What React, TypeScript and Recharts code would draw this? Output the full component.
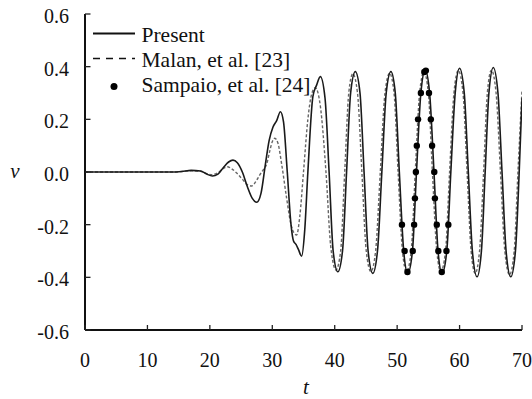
import React from "react";
import { ComposedChart, Line, Scatter, XAxis, YAxis, Legend } from "recharts";

const presentT = [0,5,10,14,15.5,17,18.5,19.5,20.4,21.3,22.2,23.0,23.7,24.4,25.2,26.0,26.8,27.5,28.2,28.9,29.5,30.1,30.7,31.3,31.8,32.4,33.0,33.4,33.8,34.2,34.7,35.2,35.7,36.5,37.1,37.7,38.45,39.1,39.75,40.5,41.25,41.9,42.55,43.3,44.05,44.7,45.35,46.1,46.85,47.55,48.25,49.0,49.7,50.35,51.05,51.7,52.45,53.1,53.8,54.5,55.2,55.9,56.55,57.2,57.95,58.6,59.3,60.0,60.75,61.4,62.05,62.8,63.5,64.1,64.7,65.4,66.15,66.8,67.45,68.2,68.95,69.55,70];
const presentV = [0,0,0,0,0.002,0.006,0.004,-0.008,-0.015,-0.008,0.018,0.038,0.045,0.035,0.0,-0.055,-0.1,-0.115,-0.08,0.03,0.12,0.17,0.195,0.229,0.19,0.0,-0.2,-0.262,-0.275,-0.295,-0.32,-0.22,0.0,0.286,0.33,0.362,0.28,0.0,-0.3,-0.379,-0.3,0,0.3,0.381,0.3,0,-0.3,-0.385,-0.3,0,0.3,0.381,0.3,0,-0.3,-0.385,-0.3,0,0.3,0.387,0.3,0,-0.3,-0.385,-0.3,0,0.3,0.394,0.3,0,-0.3,-0.398,-0.3,0,0.3,0.397,0.3,0,-0.3,-0.398,-0.3,0,0.28];

const malanT = [0,5,10,14,15.5,17,18.5,19.5,20.3,21.3,22.2,22.8,23.5,24.3,25.3,26.0,26.7,27.4,28.0,28.6,29.1,29.6,30.0,30.4,30.9,31.5,32.3,33.0,33.5,33.9,34.4,35.0,35.7,36.3,36.9,37.7,38.6,39.35,40.2,40.95,41.6,42.25,42.9,43.65,44.35,45.05,45.8,46.55,47.3,48.05,48.8,49.5,50.15,50.85,51.5,52.25,52.9,53.6,54.3,55.0,55.65,56.35,57.0,57.75,58.4,59.1,59.8,60.55,61.2,61.85,62.5,63.2,63.85,64.45,65.1,65.85,66.55,67.25,68.0,68.75,69.35,70];
const malanV = [0,0,0,0,0.002,0.005,0.003,-0.006,-0.01,-0.002,0.014,0.02,0.012,-0.004,-0.03,-0.048,-0.053,-0.035,-0.011,0.01,0.03,0.08,0.115,0.128,0.11,0.03,-0.1,-0.2,-0.232,-0.239,-0.17,0,0.2,0.295,0.32,0.25,0,-0.28,-0.372,-0.3,0,0.3,0.373,0.3,0,-0.3,-0.378,-0.3,0,0.3,0.375,0.3,0,-0.3,-0.378,-0.3,0,0.3,0.38,0.3,0,-0.3,-0.378,-0.3,0,0.3,0.385,0.3,0,-0.3,-0.385,-0.3,0,0.3,0.387,0.3,0,-0.3,-0.39,-0.3,0,0.31];

const sampaioT = [50.77,51.2,51.65,52.5,52.72,52.85,53.0,53.15,53.35,53.8,54.35,54.6,55.1,55.4,55.6,55.95,56.05,56.35,56.6,57.15,57.9,58.2];
const sampaioV = [-0.2,-0.3,-0.38,-0.3,-0.2,-0.1,0.0,0.1,0.2,0.3,0.38,0.385,0.3,0.2,0.1,0.0,-0.1,-0.2,-0.3,-0.38,-0.3,-0.2];

const seriesNames = ["Present", "Malan, et al. [23]", "Sampaio, et al. [24]"];
const xTicks = [0, 10, 20, 30, 40, 50, 60, 70];
const yTicks = [-0.6, -0.4, -0.2, 0, 0.2, 0.4, 0.6];
const xLabel = "t";
const yLabel = "v";

const zip = (ts: number[], vs: number[]) => ts.map((t, i) => ({ t, v: vs[i] }));
const presentData = zip(presentT, presentV);
const malanData = zip(malanT, malanV);
const sampaioData = zip(sampaioT, sampaioV);

const FONT = "'Liberation Serif', 'Times New Roman', serif";

const BottomTick = (p: any) => (
  <g>
    <line x1={p.x} x2={p.x} y1={p.y} y2={p.y - 5} stroke="#222" strokeWidth={1.3} />
    <text x={p.x} y={p.y + 37} textAnchor="middle" fontFamily={FONT} fontSize={20} fill="#111">
      {p.payload.value}
    </text>
  </g>
);
const LeftTick = (p: any) => (
  <g>
    <line x1={p.x} x2={p.x + 5.5} y1={p.y} y2={p.y} stroke="#222" strokeWidth={1.3} />
    <text x={p.x - 16} y={p.y + 9} textAnchor="end" fontFamily={FONT} fontSize={20} fill="#111">
      {Number(p.payload.value).toFixed(1)}
    </text>
  </g>
);
const TopTick = (p: any) => (
  <line x1={p.x} x2={p.x} y1={p.y} y2={p.y + 5} stroke="#444" strokeWidth={1.3} />
);
const RightTick = (p: any) => (
  <line x1={p.x} x2={p.x - 5.5} y1={p.y} y2={p.y} stroke="#444" strokeWidth={1.3} />
);

const LegendBox = () => (
  <svg width={320} height={100} style={{ display: "block" }}>
    <line x1={93} x2={135} y1={33.5} y2={33.5} stroke="#111" strokeWidth={1.8} />
    <line x1={93} x2={135} y1={58.5} y2={58.5} stroke="#111" strokeWidth={1.6} strokeDasharray="7 6" />
    <circle cx={114} cy={86.5} r={3.5} fill="#000" />
    <text x={141.5} y={41.7} fontFamily={FONT} fontSize={21.5} fill="#111">{seriesNames[0]}</text>
    <text x={141.5} y={66.7} fontFamily={FONT} fontSize={21.5} fill="#111">{seriesNames[1]}</text>
    <text x={141.5} y={92.3} fontFamily={FONT} fontSize={21.5} fill="#111">{seriesNames[2]}</text>
  </svg>
);

export default function App() {
  return (
    <div style={{ position: "absolute", left: 0, top: 0, width: 532, height: 399, background: "#fff" }}>
      <ComposedChart width={532} height={399} margin={{ top: 14, right: 10, bottom: 0, left: 0 }}>
        <XAxis xAxisId="b" type="number" dataKey="t" domain={[0, 70]} ticks={xTicks} orientation="bottom"
          height={69} tickSize={0} tickMargin={0} tickLine={false} interval={0}
          axisLine={{ stroke: "#111", strokeWidth: 2 }} tick={BottomTick} allowDataOverflow />
        <XAxis xAxisId="tp" type="number" dataKey="t" domain={[0, 70]} ticks={xTicks.slice(1, -1)} orientation="top"
          height={0} tickSize={0} tickMargin={0} tickLine={false} interval={0}
          axisLine={{ stroke: "#444", strokeWidth: 1.6 }} tick={TopTick} allowDataOverflow />
        <YAxis yAxisId="l" type="number" dataKey="v" domain={[-0.6, 0.6]} ticks={yTicks} orientation="left"
          width={85} tickSize={0} tickMargin={0} tickLine={false} interval={0}
          axisLine={{ stroke: "#111", strokeWidth: 2 }} tick={LeftTick} allowDataOverflow />
        <YAxis yAxisId="r" type="number" dataKey="v" domain={[-0.6, 0.6]} ticks={yTicks.slice(1, -1)} orientation="right"
          width={0} tickSize={0} tickMargin={0} tickLine={false} interval={0}
          axisLine={{ stroke: "#444", strokeWidth: 1.6 }} tick={RightTick} allowDataOverflow />
        <Line xAxisId="b" yAxisId="l" data={malanData} dataKey="v" type="monotone" stroke="#666"
          strokeWidth={1.4} strokeDasharray="3 2" dot={false} isAnimationActive={false} />
        <Line xAxisId="b" yAxisId="l" data={presentData} dataKey="v" type="monotone" stroke="#1a1a1a"
          strokeWidth={1.6} dot={false} isAnimationActive={false} />
        <Scatter xAxisId="b" yAxisId="l" data={sampaioData} dataKey="v" isAnimationActive={false}
          shape={(p: any) => <circle cx={p.cx} cy={p.cy} r={3.2} fill="#000" />} />
        <Legend layout="vertical" align="center" verticalAlign="middle"
          wrapperStyle={{ position: "absolute", left: 0, top: 0, width: 320, height: 100 }}
          content={() => <LegendBox />} />
        <text x={15} y={178} textAnchor="middle" fontFamily={FONT} fontStyle="italic" fontSize={21} fill="#111">{yLabel}</text>
        <text x={306} y={394} textAnchor="middle" fontFamily={FONT} fontStyle="italic" fontSize={21} fill="#111">{xLabel}</text>
      </ComposedChart>
    </div>
  );
}
